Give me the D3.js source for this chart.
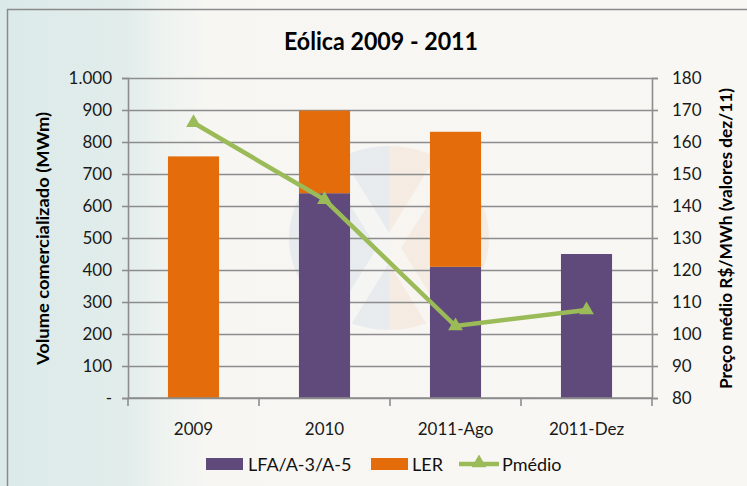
<!DOCTYPE html>
<html>
<head>
<meta charset="utf-8">
<script src="https://cdn.jsdelivr.net/npm/d3@7"></script>
<style>
  body { margin: 0; background: #f8f6f3; }
  svg { display: block; }
  .tick-label { font-family: Lato, "Liberation Sans", sans-serif; font-size: 17px; fill: #1a1a1a; }
  .axis-title { font-family: Lato, "Liberation Sans", sans-serif; font-size: 17px; font-weight: bold; fill: #000; }
  .legend-text { font-family: Lato, "Liberation Sans", sans-serif; font-size: 18px; fill: #111; }
</style>
</head>
<body>
<div id="chart"></div>
<script>
// data
var categories = ["2009", "2010", "2011-Ago", "2011-Dez"];
var lfaValues = [0, 640, 410, 450];
var lerValues = [755, 258, 422, 0];
var pmedioValues = [166, 142, 102.5, 107.5];
var volumeTicks = [0, 100, 200, 300, 400, 500, 600, 700, 800, 900, 1000];
var priceTicks = [80, 90, 100, 110, 120, 130, 140, 150, 160, 170, 180];
var seriesNames = ["LFA/A-3/A-5", "LER", "Pmédio"];

var width = 747, height = 486;
var margin = {top: 78, right: 95, bottom: 88, left: 128};
var chartWidth = width - margin.left - margin.right;
var chartHeight = height - margin.top - margin.bottom;

var purple = "#604a7b", orange = "#e46c0a", green = "#9bbb59", gridColor = "#8d8d8d";

var svg = d3.select("#chart").append("svg")
    .attr("width", width)
    .attr("height", height);

// background wash
var defs = svg.append("defs");
var grad = defs.append("linearGradient").attr("id", "bg").attr("x1", 0).attr("x2", 1).attr("y1", 0).attr("y2", 0);
[[0, "#dbeae9"], [0.17, "#e2edeb"], [0.22, "#eef3f0"], [0.28, "#f7f6f3"], [1, "#f9f7f4"]].forEach(function(s) {
  grad.append("stop").attr("offset", s[0]).attr("stop-color", s[1]);
});
svg.append("rect").attr("width", width).attr("height", height).attr("fill", "url(#bg)");

// chart frame
svg.append("rect")
    .attr("x", 7.5).attr("y", 9.5)
    .attr("width", 800).attr("height", 600)
    .attr("fill", "none")
    .attr("stroke", "#8a8a8a")
    .attr("stroke-width", 1.5);

// faint logo watermark
var logo = svg.append("g").attr("transform", "translate(389,238)").attr("opacity", 0.2);
logo.append("path")
    .attr("d", "M0,-92 A100,92 0 0,0 0,92 Z")
    .attr("fill", "#a9c1dc");
logo.append("path")
    .attr("d", "M0,-92 A100,92 0 0,1 0,92 Z")
    .attr("fill", "#eec2a0");
logo.append("path")
    .attr("d", "M-62,-70 L-40,-70 L0,-5 L40,-70 L62,-70 L12,10 L62,90 L40,90 L0,25 L-40,90 L-62,90 L-12,10 Z")
    .attr("fill", "#ffffff")
    .attr("opacity", 0.8);

var g = svg.append("g")
    .attr("transform", `translate(${margin.left}, ${margin.top})`);

var xScale = d3.scaleBand()
    .domain(categories)
    .range([0, chartWidth])
    .padding(0);

var yScale = d3.scaleLinear()
    .domain([0, 1000])
    .range([chartHeight, 0]);

var y2Scale = d3.scaleLinear()
    .domain([80, 180])
    .range([chartHeight, 0]);

var formatVolume = function(d) {
  if (d === 0) return "-";
  return d3.format(",")(d).replace(",", ".");
};

// gridlines
g.append("g")
    .attr("class", "grid")
    .call(d3.axisLeft(yScale).tickValues(volumeTicks).tickSize(-chartWidth).tickFormat(""))
    .call(s => s.select(".domain").remove())
    .selectAll("line")
        .attr("stroke", gridColor)
        .attr("stroke-width", 1.6);

// bars
var barWidth = xScale.bandwidth() * 0.39;
var stacked = categories.map((c, i) => ({cat: c, lfa: lfaValues[i], ler: lerValues[i]}));

g.selectAll(".bar-lfa")
    .data(stacked.filter(d => d.lfa > 0))
    .enter()
    .append("rect")
    .attr("class", "bar-lfa")
    .attr("x", d => xScale(d.cat) + (xScale.bandwidth() - barWidth) / 2)
    .attr("y", d => yScale(d.lfa))
    .attr("width", barWidth)
    .attr("height", d => chartHeight - yScale(d.lfa))
    .attr("fill", purple);

g.selectAll(".bar-ler")
    .data(stacked.filter(d => d.ler > 0))
    .enter()
    .append("rect")
    .attr("class", "bar-ler")
    .attr("x", d => xScale(d.cat) + (xScale.bandwidth() - barWidth) / 2)
    .attr("y", d => yScale(d.lfa + d.ler))
    .attr("width", barWidth)
    .attr("height", d => yScale(d.lfa) - yScale(d.lfa + d.ler))
    .attr("fill", orange);

// left axis
var leftAxis = g.append("g")
    .call(d3.axisLeft(yScale).tickValues(volumeTicks).tickSize(6).tickPadding(10).tickFormat(formatVolume));
leftAxis.select(".domain").attr("stroke", gridColor).attr("stroke-width", 1.6);
leftAxis.selectAll("line").attr("stroke", gridColor).attr("stroke-width", 1.6);
leftAxis.selectAll("text").attr("class", "tick-label").attr("fill", null);
leftAxis.attr("font-family", null).attr("font-size", null);

// right axis
var rightAxis = g.append("g")
    .attr("transform", `translate(${chartWidth},0)`)
    .call(d3.axisRight(y2Scale).tickValues(priceTicks).tickSize(6).tickPadding(14));
rightAxis.select(".domain").attr("stroke", gridColor).attr("stroke-width", 1.6);
rightAxis.selectAll("line").attr("stroke", gridColor).attr("stroke-width", 1.6);
rightAxis.selectAll("text").attr("class", "tick-label").attr("fill", null);
rightAxis.attr("font-family", null).attr("font-size", null);

// bottom axis: ticks on band edges
var bottom = g.append("g").attr("transform", `translate(0,${chartHeight})`);
bottom.append("line")
    .attr("x1", 0).attr("x2", chartWidth)
    .attr("stroke", gridColor).attr("stroke-width", 1.6);
bottom.selectAll(".edge")
    .data(categories.concat([null]))
    .enter()
    .append("line")
    .attr("x1", (d, i) => i < categories.length ? xScale(d) : chartWidth)
    .attr("x2", (d, i) => i < categories.length ? xScale(d) : chartWidth)
    .attr("y1", 0).attr("y2", 8)
    .attr("stroke", gridColor).attr("stroke-width", 1.6);
bottom.selectAll(".xlabel")
    .data(categories)
    .enter()
    .append("text")
    .attr("class", "tick-label")
    .attr("x", d => xScale(d) + xScale.bandwidth() / 2)
    .attr("y", 37)
    .attr("text-anchor", "middle")
    .text(d => d);

// price line
var line = d3.line()
    .x((d, i) => xScale(categories[i]) + xScale.bandwidth() / 2)
    .y(d => y2Scale(d));

g.append("path")
    .datum(pmedioValues)
    .attr("fill", "none")
    .attr("stroke", green)
    .attr("stroke-width", 4.5)
    .attr("d", line);

var triangle = d3.symbol().type(d3.symbolTriangle).size(95);
g.selectAll(".marker")
    .data(pmedioValues)
    .enter()
    .append("path")
    .attr("class", "marker")
    .attr("transform", (d, i) => `translate(${xScale(categories[i]) + xScale.bandwidth() / 2}, ${y2Scale(d)})`)
    .attr("d", triangle)
    .attr("fill", green);

// titles
svg.append("text")
    .attr("x", 381)
    .attr("y", 50)
    .attr("text-anchor", "middle")
    .attr("textLength", 194)
    .attr("lengthAdjust", "spacingAndGlyphs")
    .style("font-family", "Lato, 'Liberation Sans', sans-serif")
    .style("font-size", "24px")
    .style("font-weight", "bold")
    .text("Eólica 2009 - 2011");

svg.append("text")
    .attr("class", "axis-title")
    .attr("transform", "translate(49,238.5) rotate(-90)")
    .attr("text-anchor", "middle")
    .attr("textLength", 253)
    .attr("lengthAdjust", "spacingAndGlyphs")
    .text("Volume comercializado (MWm)");

svg.append("text")
    .attr("class", "axis-title")
    .attr("transform", "translate(732,238.5) rotate(-90)")
    .attr("text-anchor", "middle")
    .attr("textLength", 301)
    .attr("lengthAdjust", "spacingAndGlyphs")
    .text("Preço médio R$/MWh (valores dez/11)");

// legend
var legend = svg.append("g").attr("transform", "translate(0,464)");
var legendX = [206, 371, 459];

legend.append("rect")
    .attr("x", legendX[0]).attr("y", -6).attr("width", 37).attr("height", 12)
    .attr("fill", purple);
legend.append("rect")
    .attr("x", legendX[1]).attr("y", -6).attr("width", 37).attr("height", 12)
    .attr("fill", orange);
legend.append("line")
    .attr("x1", legendX[2]).attr("x2", legendX[2] + 40)
    .attr("stroke", green).attr("stroke-width", 4.5);
legend.append("path")
    .attr("transform", `translate(${legendX[2] + 20},-1)`)
    .attr("d", triangle)
    .attr("fill", green);

legend.selectAll(".legend-text")
    .data(seriesNames)
    .enter()
    .append("text")
    .attr("class", "legend-text")
    .attr("x", (d, i) => [248, 412, 502][i])
    .attr("y", 6.5)
    .text(d => d);
</script>
</body>
</html>
